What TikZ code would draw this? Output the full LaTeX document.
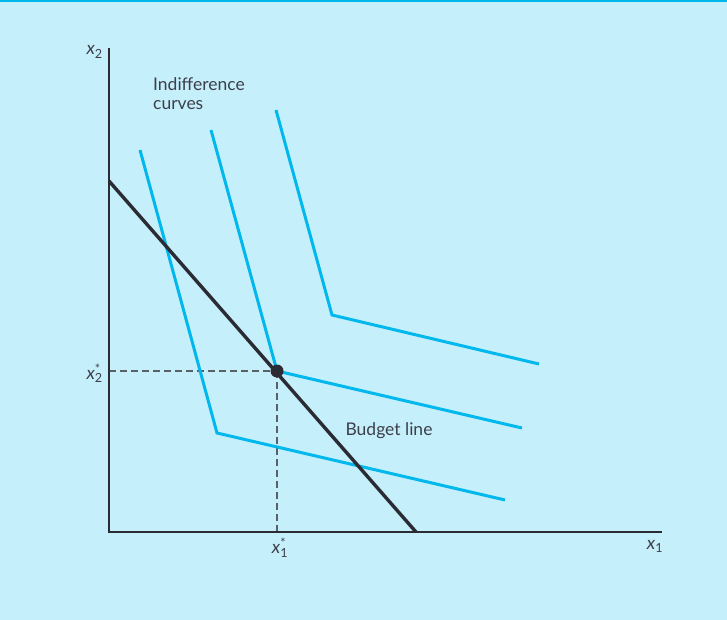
\documentclass[tikz,border=0pt]{standalone}
\usepackage{fontspec}
\setmainfont{Lato}
\definecolor{bg}{HTML}{C6EFFC}
\definecolor{icc}{HTML}{00B8EC}
\definecolor{axisc}{HTML}{2A2B33}
\definecolor{txt}{HTML}{3C3F4A}
\definecolor{dashc}{HTML}{5A6068}
\newcommand{\vx}[1]{\textit{x}\textsubscript{#1}}
\newcommand{\vxs}[1]{\textit{x}\rlap{\textsuperscript{*}}\textsubscript{#1}}
\begin{document}
\begin{tikzpicture}[x=1pt,y=-1pt,
  axis/.style={draw=axisc,line width=2.4pt},
  icurve/.style={draw=icc,line width=3pt,line join=miter},
  budget/.style={draw=axisc,line width=3.4pt},
  guide/.style={draw=dashc,line width=1.1pt,dash pattern=on 7pt off 4pt},
  lbl/.style={text=txt,font=\fontsize{17.5}{19}\selectfont,inner sep=0pt},
  mlbl/.style={text=txt,font=\fontsize{18}{20}\selectfont,inner sep=0pt}]
\fill[bg] (0,0) rectangle (727,620);
\useasboundingbox (0,0) rectangle (727,620);
\fill[icc] (0,0) rectangle (727,2.5);
% coordinates
\coordinate (O) at (109,532);
\coordinate (Ytop) at (109,48);
\coordinate (Xend) at (662,532);
\coordinate (E) at (277,371);
\coordinate (Ey) at (109,371);
\coordinate (Ex) at (277,532);
\coordinate (B1) at (109,181);
\coordinate (B2) at (416,532);
% guides
\draw[guide] (Ey) -- (E);
\draw[guide] (E) -- (Ex);
% indifference curves
\draw[icurve] (140,150) -- (217,433) -- (505,500);
\draw[icurve] (211,130) -- (E) -- (522,428);
\draw[icurve] (276,110) -- (332,315) -- (539,364);
% budget line
\draw[budget] (B1) -- (B2);
% axes
\draw[axis] (Ytop) -- (O) -- (Xend);
% equilibrium point
\fill[axisc] (E) circle (6.5);
% labels
\node[mlbl,anchor=east] (lx2) at (103,52) {\vx{2}};
\node[mlbl,anchor=north] (lx1) at (655,540) {\vx{1}};
\node[mlbl,anchor=east] (lx2s) at (103,373) {\vxs{2}};
\node[mlbl,anchor=north] (lx1s) at (280,538) {\vxs{1}};
\node[lbl,anchor=north west,align=left] (ind) at (153,77) {Indifference\\curves};
\node[lbl] (bud) at (389,431) {Budget line};
\end{tikzpicture}
\end{document}
